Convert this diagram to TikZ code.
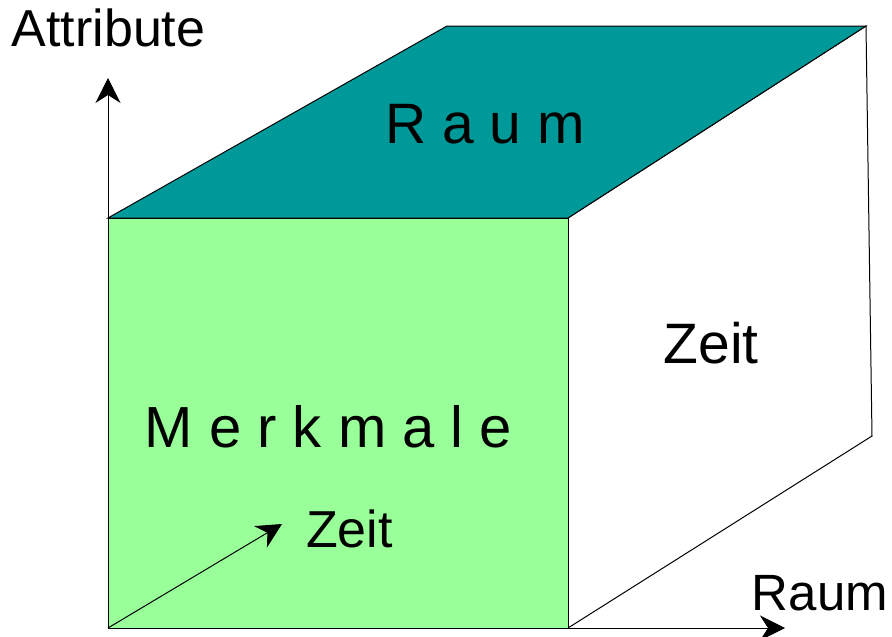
\documentclass[tikz,border=0pt]{standalone}
\usepackage{fontspec}
\setmainfont{Liberation Sans}
\usetikzlibrary{arrows.meta}
\definecolor{topteal}{HTML}{009999}
\definecolor{frontgreen}{HTML}{99FF99}
\tikzset{
  face/.style={draw=black, line width=1pt, line join=miter},
  axis/.style={draw=black, line width=1pt,
    -{Stealth[length=25pt, width=25pt, inset=8pt]}},
  lbl/.style={inner sep=0pt, anchor=base, text=black},
}
\newcommand{\lblsize}[1]{\fontsize{#1}{#1}\selectfont}
\begin{document}
\begin{tikzpicture}[x=1pt, y=-1pt]
  \useasboundingbox (0,0) rectangle (892,637);
  % corners of the block
  \coordinate (o)   at (108,628);
  \coordinate (ftl) at (108,218);
  \coordinate (ftr) at (568,218);
  \coordinate (fbr) at (568,628);
  \coordinate (btl) at (447,26);
  \coordinate (btr) at (866,26);
  \coordinate (bbr) at (872,436);
  % axis end points
  \coordinate (yend) at (108,78);
  \coordinate (xend) at (785,628);
  \coordinate (zend) at (282,524);

  % faces
  \fill[white] (ftr) -- (btr) -- (bbr) -- (fbr) -- cycle;
  \draw[face] (ftr) -- (btr) -- (bbr) -- (fbr);
  \filldraw[face, fill=topteal] (ftl) -- (btl) -- (btr) -- (ftr) -- cycle;
  \filldraw[face, fill=frontgreen] (ftl) rectangle (fbr);

  % axes
  \draw[axis] (ftl) -- (yend);
  \draw[axis] (o) -- (xend);
  \draw[axis] (o) -- (zend);

  % labels
  \node[lbl, font=\lblsize{52}] (attr) at (108.5,46) {Attribute};
  \node[lbl, font=\lblsize{57}] (raumtop) at (485,143) {R a u m};
  \node[lbl, font=\lblsize{57}] (zeitright) at (711,363) {Zeit};
  \node[lbl, font=\lblsize{58}] (merk) at (328.5,447) {M e r k m a l e};
  \node[lbl, font=\lblsize{52}] (zeitfront) at (349.5,547) {Zeit};
  \node[lbl, font=\lblsize{51}] (raumaxis) at (820,610) {Raum};
\end{tikzpicture}
\end{document}
